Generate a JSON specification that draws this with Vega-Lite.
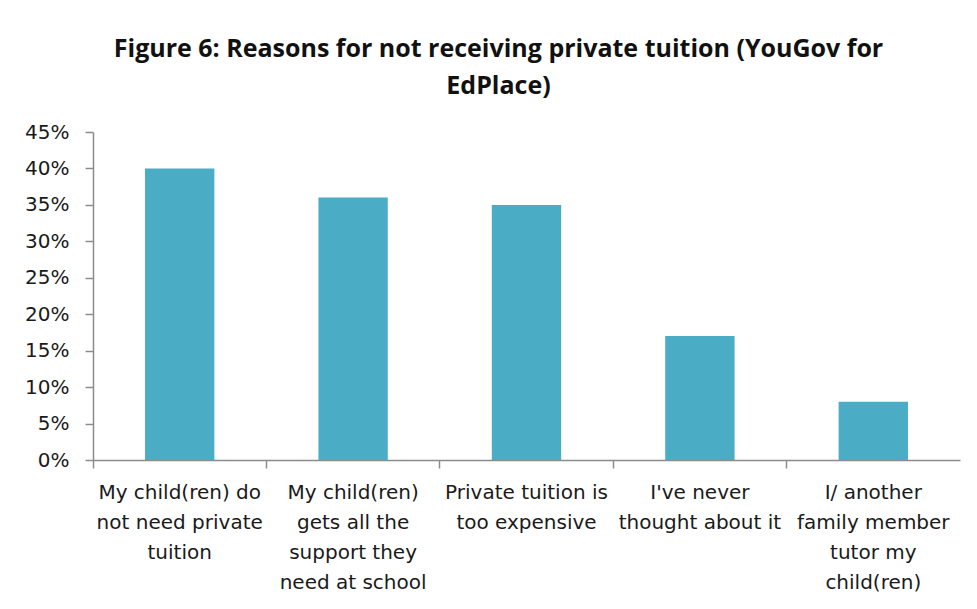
{
  "$schema": "https://vega.github.io/schema/vega-lite/v6.json",
  "width": 867,
  "height": 328,
  "padding": {"left": 5, "top": 37, "right": 17, "bottom": 10},
  "background": "white",
  "title": {
    "text": ["Figure 6: Reasons for not receiving private tuition (YouGov for", "EdPlace)"],
    "font": "Open Sans",
    "fontSize": 25,
    "fontWeight": "bold",
    "color": "#111111",
    "lineHeight": 37,
    "anchor": "middle",
    "dx": -28,
    "offset": 23
  },
  "data": {
    "values": [
      {"reason": "My child(ren) do not need private tuition", "share": 0.40},
      {"reason": "My child(ren) gets all the support they need at school", "share": 0.36},
      {"reason": "Private tuition is too expensive", "share": 0.35},
      {"reason": "I've never thought about it", "share": 0.17},
      {"reason": "I/ another family member tutor my child(ren)", "share": 0.08}
    ]
  },
  "mark": {"type": "bar", "color": "#4BACC6", "width": {"band": 0.4}},
  "encoding": {
    "x": {
      "field": "reason",
      "type": "nominal",
      "sort": null,
      "title": null,
      "scale": {"paddingInner": 0, "paddingOuter": 0},
      "axis": {
        "labelAngle": 0,
        "bandPosition": 0,
        "labelAlign": "center",
        "labelFont": "DejaVu Sans",
        "labelFontSize": 20,
        "labelColor": "#1a1a1a",
        "labelLineHeight": 30,
        "labelPadding": 14,
        "tickSize": 8,
        "tickColor": "#8c8c8c",
        "domainColor": "#8c8c8c",
        "domainWidth": 1.5,
        "tickWidth": 1.5,
        "labelExpr": "datum.value == 'My child(ren) do not need private tuition' ? ['My child(ren) do', 'not need private', 'tuition'] : datum.value == 'My child(ren) gets all the support they need at school' ? ['My child(ren)', 'gets all the', 'support they', 'need at school'] : datum.value == 'Private tuition is too expensive' ? ['Private tuition is', 'too expensive'] : datum.value == \"I've never thought about it\" ? [\"I've never\", 'thought about it'] : ['I/ another', 'family member', 'tutor my', 'child(ren)']"
      }
    },
    "y": {
      "field": "share",
      "type": "quantitative",
      "title": null,
      "scale": {"domain": [0, 0.45]},
      "axis": {
        "values": [0, 0.05, 0.1, 0.15, 0.2, 0.25, 0.3, 0.35, 0.4, 0.45],
        "format": ".0%",
        "grid": false,
        "labelFont": "DejaVu Sans",
        "labelFontSize": 20,
        "labelColor": "#1a1a1a",
        "labelPadding": 16,
        "tickSize": 8,
        "tickColor": "#8c8c8c",
        "domainColor": "#8c8c8c",
        "domainWidth": 1.5,
        "tickWidth": 1.5,
        "minExtent": 88,
        "maxExtent": 88
      }
    }
  },
  "config": {
    "view": {"stroke": null}
  }
}
